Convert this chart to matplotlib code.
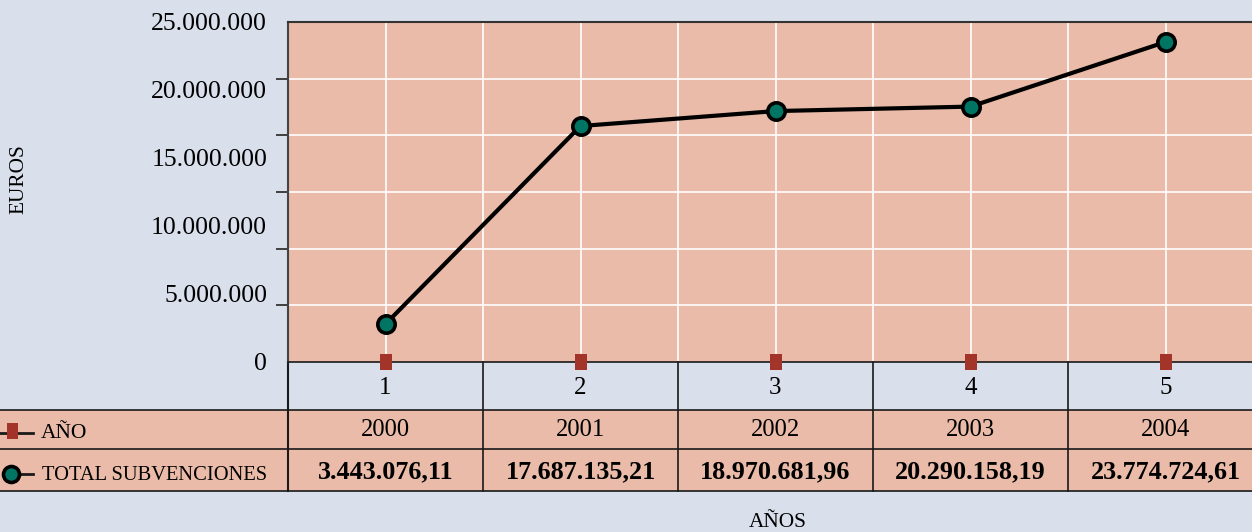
import matplotlib
matplotlib.use("Agg")
import matplotlib.pyplot as plt
from matplotlib.lines import Line2D
from matplotlib.patches import Rectangle
from matplotlib import transforms
import numpy as np

# ---------------- data ----------------
categories = ["1", "2", "3", "4", "5"]
years = [2000, 2001, 2002, 2003, 2004]
# values printed in the data table
total_subvenciones = [3443076.11, 17687135.21, 18970681.96, 20290158.19, 23774724.61]
# positions of the plotted markers
plotted_total = [2790000, 17350000, 18450000, 18780000, 23530000]
ytick_values = [0, 5000000, 10000000, 15000000, 20000000, 25000000]
ytick_labels = ["0", "5.000.000", "10.000.000", "15.000.000", "20.000.000", "25.000.000"]
series_names = ["AÑO", "TOTAL SUBVENCIONES"]


def fmt_es(v):
    s = f"{v:,.2f}"
    return s.replace(",", "X").replace(".", ",").replace("X", ".")


# ---------------- style ----------------
BG = "#d9dfeb"
SALMON = "#e9bba8"
TEAL = "#007563"
RED = "#a3342a"
DARK = "#1a1a1a"
FONT = "Liberation Serif"
plt.rcParams["font.family"] = [FONT, "DejaVu Serif"]

W, H = 1252, 532
fig = plt.figure(figsize=(W / 100, H / 100), dpi=100, facecolor=BG)


def fx(px):
    return px / W


def fy(py):
    return 1 - py / H


left, right, top, bottom = 288, 1252, 22, 362
ax = fig.add_axes([fx(left), fy(bottom), fx(right - left), fy(top) - fy(bottom)])
ax.set_facecolor(SALMON)

cat_w = 195.0
x = np.arange(len(categories))
ax.set_xlim(-0.5, -0.5 + (right - left) / cat_w)
ax.set_ylim(0, 25000000)

# grid: vertical at centers and boundaries, horizontal at 6 divisions
for gx in np.arange(0, len(categories), 0.5):
    ax.axvline(gx, color="white", lw=1.2, zorder=1)
minor_y = np.linspace(0, 25000000, 7)
for gy in minor_y[1:-1]:
    ax.axhline(gy, color="white", lw=1.2, zorder=1)

# series
ax.plot(x, plotted_total, color="black", lw=3.0, marker="o", ms=12.5,
        mfc=TEAL, mec="black", mew=2.6, zorder=5, clip_on=False)
rect_marker = [(-0.36, -0.5), (0.36, -0.5), (0.36, 0.5), (-0.36, 0.5), (-0.36, -0.5)]
ax.plot(x, years, ls="none", marker=rect_marker, ms=11.5, mfc=RED, mec=RED,
        mew=0, zorder=6, clip_on=False)

# spines
ax.spines["right"].set_visible(False)
ax.spines["left"].set_color("#444444")
ax.spines["left"].set_linewidth(1.5)
ax.spines["top"].set_color("#333333")
ax.spines["top"].set_linewidth(1.5)
ax.spines["bottom"].set_color(DARK)
ax.spines["bottom"].set_linewidth(1.2)

# y ticks: labels at 5M steps, tick marks at 6 divisions
ax.set_yticks(ytick_values)
ax.set_yticklabels(ytick_labels, fontsize=18.5)
ax.tick_params(axis="y", which="major", length=0, pad=15)
ax.set_yticks(minor_y, minor=True)
ax.tick_params(axis="y", which="minor", length=9, width=1.3, color="#333333")

# x ticks
ax.set_xticks(x)
ax.set_xticklabels(categories, fontsize=18)
ax.tick_params(axis="x", length=0, pad=11)

# ---------------- data table ----------------
blend = transforms.blended_transform_factory(ax.transData, fig.transFigure)
row_lines = [410, 449, 491]
fig.add_artist(Rectangle((0, fy(491)), 1, (491 - 410) / H, transform=fig.transFigure,
                         facecolor=SALMON, edgecolor="none", zorder=0))
for ry in row_lines:
    fig.add_artist(Line2D([0, 1], [fy(ry), fy(ry)], transform=fig.transFigure,
                          color=DARK, lw=1.2, zorder=2))
# vertical cell borders
for b in np.arange(len(categories) + 1) - 0.5:
    ax.add_line(Line2D([b, b], [fy(491), fy(362)], transform=blend, color=DARK,
                       lw=1.2 if b > -0.5 else 1.5, clip_on=False, zorder=2))

for i in range(len(categories)):
    ax.text(i, fy(436.5), str(years[i]), transform=blend, ha="center", va="baseline",
            fontsize=17.7)
    ax.text(i, fy(478), fmt_es(total_subvenciones[i]), transform=blend, ha="center",
            va="baseline", fontsize=18.8, fontweight="bold")

# legend keys in the table
fig.add_artist(Line2D([fx(0), fx(33)], [fy(433), fy(433)], transform=fig.transFigure,
                      color=DARK, lw=2, zorder=3))
fig.add_artist(Line2D([fx(11.5)], [fy(430.5)], transform=fig.transFigure, ls="none",
                      marker=rect_marker, ms=11, mfc=RED, mew=0, zorder=4))
fig.text(fx(41), fy(438), series_names[0], ha="left", va="baseline", fontsize=15.5)
fig.add_artist(Line2D([fx(10), fx(33)], [fy(474), fy(474)], transform=fig.transFigure,
                      color=DARK, lw=2, zorder=3))
fig.add_artist(Line2D([fx(11)], [fy(474)], transform=fig.transFigure, ls="none",
                      marker="o", ms=11.5, mfc=TEAL, mec="black", mew=2.6, zorder=4))
fig.text(fx(42), fy(480), series_names[1], ha="left", va="baseline", fontsize=14.8)

# axis titles
fig.text(fx(19), fy(179), "EUROS", rotation=90, ha="center", va="center", fontsize=15.3)
fig.text(fx(778), fy(527), "AÑOS", ha="center", va="baseline", fontsize=15.3)

fig.savefig("out.png", dpi=100, facecolor=BG)
